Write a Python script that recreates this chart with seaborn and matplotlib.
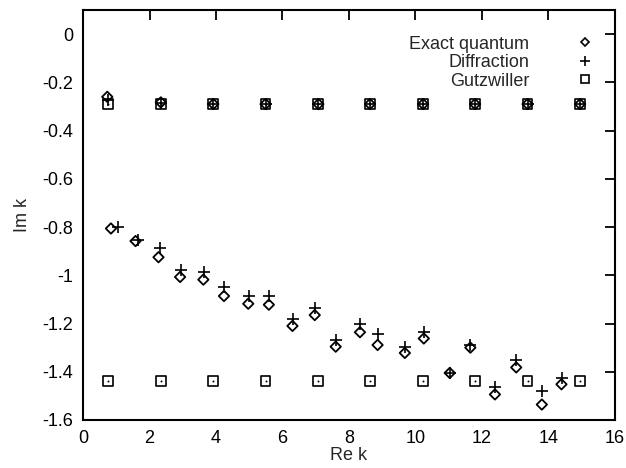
import matplotlib
matplotlib.use("Agg")
import matplotlib.pyplot as plt
import seaborn as sns
import pandas as pd
from matplotlib.lines import Line2D

# Exact quantum (diamonds)
exact_x = [0.73, 2.34, 3.92, 5.49, 7.08, 8.63, 10.23, 11.79, 13.37, 14.95,
           0.84, 1.58, 2.27, 2.92, 3.62, 4.24, 4.97, 5.59, 6.30, 6.97, 7.60,
           8.33, 8.86, 9.68, 10.25, 11.03, 11.65, 12.39, 13.03, 13.80, 14.39]
exact_y = [-0.26, -0.283, -0.29, -0.29, -0.29, -0.29, -0.29, -0.29, -0.29, -0.29,
           -0.806, -0.858, -0.925, -1.007, -1.018, -1.086, -1.118, -1.122, -1.21, -1.165, -1.296,
           -1.236, -1.289, -1.322, -1.262, -1.405, -1.30, -1.494, -1.382, -1.536, -1.452]

# Diffraction (plus)
diff_x = [0.76, 2.34, 3.92, 5.49, 7.08, 8.63, 10.23, 11.79, 13.37, 14.95,
          1.06, 1.64, 2.32, 2.95, 3.64, 4.25, 4.99, 5.60, 6.33, 6.98, 7.61,
          8.33, 8.88, 9.68, 10.26, 11.03, 11.63, 12.38, 13.02, 13.80, 14.41]
diff_y = [-0.275, -0.285, -0.29, -0.29, -0.29, -0.29, -0.29, -0.29, -0.29, -0.29,
          -0.80, -0.854, -0.885, -0.98, -0.986, -1.049, -1.086, -1.086, -1.183, -1.134, -1.267,
          -1.204, -1.243, -1.299, -1.236, -1.405, -1.29, -1.465, -1.351, -1.479, -1.424]

# Gutzwiller (squares)
gutz_x = [0.76, 2.34, 3.92, 5.49, 7.08, 8.63, 10.23, 11.79, 13.37, 14.95,
          0.76, 2.34, 3.92, 5.49, 7.08, 8.63, 10.23, 11.79, 13.37, 14.95]
gutz_y = [-0.29] * 10 + [-1.44] * 10

x_ticks = [0, 2, 4, 6, 8, 10, 12, 14, 16]
y_ticks = [0, -0.2, -0.4, -0.6, -0.8, -1, -1.2, -1.4, -1.6]
y_tick_labels = ["0", "-0.2", "-0.4", "-0.6", "-0.8", "-1", "-1.2", "-1.4", "-1.6"]

sns.set_style("white")
plt.rcParams['font.family'] = ['Liberation Sans', 'DejaVu Sans']
plt.rcParams['font.size'] = 13

fig = plt.figure(figsize=(6.26, 4.68), dpi=100)
ax = fig.add_axes([0.1326, 0.1026, 0.8498, 0.876])

df_e = pd.DataFrame({"x": exact_x, "y": exact_y})
df_d = pd.DataFrame({"x": diff_x, "y": diff_y})
df_g = pd.DataFrame({"x": gutz_x, "y": gutz_y})

sns.scatterplot(data=df_g, x="x", y="y", ax=ax, marker="s", s=50,
                facecolors="none", edgecolor="black", linewidth=1.2, legend=False)
sns.scatterplot(data=df_g, x="x", y="y", ax=ax, marker="o", s=2,
                color="black", edgecolor="black", linewidth=0, legend=False)
sns.scatterplot(data=df_e, x="x", y="y", ax=ax, marker="D", s=28,
                facecolors="none", edgecolor="black", linewidth=1.3, legend=False)
sns.scatterplot(data=df_d, x="x", y="y", ax=ax, marker="+", s=70,
                color="black", linewidth=1.2, legend=False)

ax.set_xlim(0, 16)
ax.set_ylim(-1.6, 0.1)
ax.set_xticks(x_ticks)
ax.set_xticklabels([str(t) for t in x_ticks])
ax.set_yticks(y_ticks)
ax.set_yticklabels(y_tick_labels)
ax.tick_params(direction="in", length=7, width=1.3, top=True, right=True,
               labelsize=13, colors="black", pad=7)
for sp in ax.spines.values():
    sp.set_color("black")
    sp.set_linewidth(1.5)
ax.set_xlabel("Re k", fontsize=13, labelpad=0)
ax.set_ylabel("Im k", fontsize=13, labelpad=8)

handles = [
    Line2D([], [], marker="D", markersize=4, linestyle="none",
           markerfacecolor="none", markeredgecolor="black", markeredgewidth=1.2),
    Line2D([], [], marker="+", markersize=7, linestyle="none",
           color="black", markeredgewidth=1.2),
    Line2D([], [], marker="s", markersize=6, linestyle="none",
           markerfacecolor="none", markeredgecolor="black", markeredgewidth=1.2),
]
ax.legend(handles, ["Exact quantum", "Diffraction", "Gutzwiller"], loc="upper right",
          frameon=False, markerfirst=False, handlelength=1.0, handletextpad=2.6,
          labelspacing=0.08, fontsize=13, borderaxespad=0.0, bbox_to_anchor=(0.975, 0.955))

fig.savefig("out.png", dpi=100)
